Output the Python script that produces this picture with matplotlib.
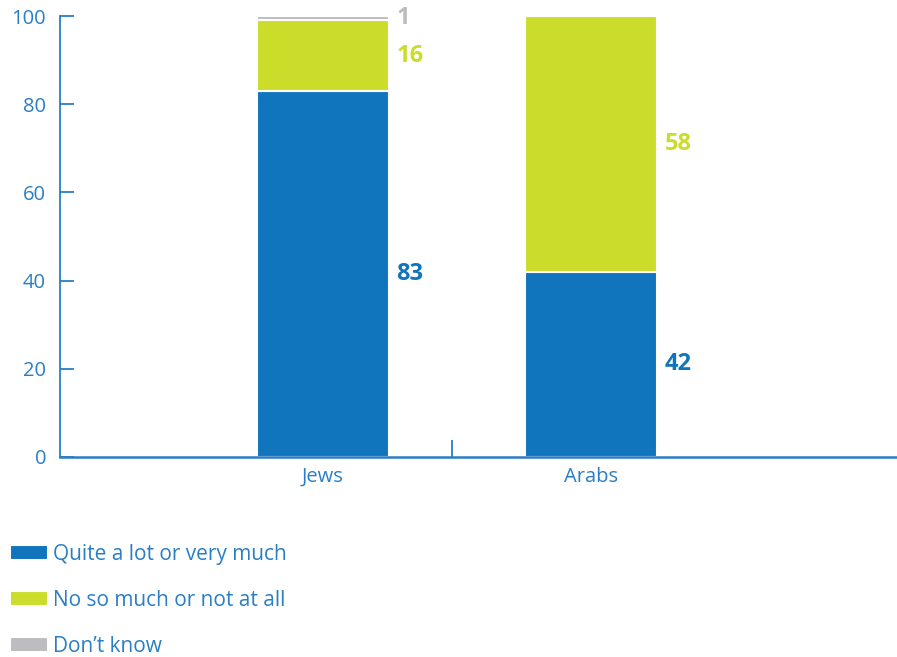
import matplotlib.pyplot as plt
import numpy as np

plt.rcParams['font.family'] = ['Open Sans', 'DejaVu Sans']

groups = ["Jews", "Arabs"]
series = ["Quite a lot or very much", "No so much or not at all", "Don\u2019t know"]
quite_much = [83, 42]
not_much = [16, 58]
dont_know = [1, 0]

colors = ["#1175bd", "#cbdc2b", "#bdbdc1"]
axis_blue = "#2a7fc4"

fig = plt.figure(figsize=(8.97, 6.57), dpi=100)
ax = fig.add_axes([60 / 897, 1 - 457 / 657, 837 / 897, 441 / 657])

x = np.arange(len(groups))
width = 0.49
bottom = np.zeros(len(groups))
for name, vals, col in zip(series, [quite_much, not_much, dont_know], colors):
    vals = np.array(vals, dtype=float)
    ax.bar(x, vals, width, bottom=bottom, color=col, edgecolor="white",
           linewidth=1.5, label=name)
    for xi, b, v in zip(x, bottom, vals):
        if v > 0:
            ax.text(xi + width / 2 + 0.03, b + v / 2, f"{v:.0f}", color=col,
                    fontsize=17, fontweight="bold", va="center", ha="left")
    bottom += vals

ax.set_xlim(-0.981, 2.142)
ax.set_ylim(0, 100)
ax.set_yticks(range(0, 101, 20))
ax.set_xticks(x)
ax.set_xticklabels(groups)
ax.set_xticks([0.48], minor=True)

for s in ["top", "right"]:
    ax.spines[s].set_visible(False)
ax.spines["left"].set_color(axis_blue)
ax.spines["left"].set_linewidth(1.3)
ax.spines["bottom"].set_color(axis_blue)
ax.spines["bottom"].set_linewidth(1.8)

ax.tick_params(axis="y", direction="in", length=10, width=1.3, color=axis_blue,
               labelcolor=axis_blue, labelsize=14.5, pad=10)
ax.tick_params(axis="x", which="major", length=0, labelcolor=axis_blue,
               labelsize=14.5, pad=7)
ax.tick_params(axis="x", which="minor", direction="in", length=12, width=1.3,
               color=axis_blue)

leg = ax.legend(loc="lower left", bbox_to_anchor=(10 / 897, 0.0),
                bbox_transform=fig.transFigure, frameon=False, fontsize=15,
                handlelength=1.83, handleheight=0.72, handletextpad=0.25,
                labelspacing=1.2, borderaxespad=0, borderpad=0)
for t in leg.get_texts():
    t.set_color(axis_blue)

plt.savefig("out.png", dpi=100)
